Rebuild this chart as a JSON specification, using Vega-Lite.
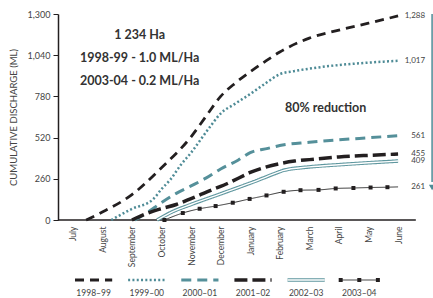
{
  "$schema": "https://vega.github.io/schema/vega-lite/v6.json",
  "padding": {"left": 8, "top": 10, "right": 0, "bottom": 0},
  "autosize": {"type": "pad"},
  "spacing": 60,
  "bounds": "flush",
  "config": {
    "view": {"stroke": null},
    "font": "Lato",
    "axis": {"labelFont": "Lato", "titleFont": "Lato", "grid": false}
  },
  "datasets": {
    "lines": [
      {"s": "1998–99", "m": 0.45, "v": 0},
      {"s": "1998–99", "m": 1, "v": 50},
      {"s": "1998–99", "m": 2, "v": 160},
      {"s": "1998–99", "m": 3, "v": 330},
      {"s": "1998–99", "m": 4, "v": 525},
      {"s": "1998–99", "m": 4.5, "v": 653},
      {"s": "1998–99", "m": 5, "v": 780},
      {"s": "1998–99", "m": 5.5, "v": 865},
      {"s": "1998–99", "m": 6, "v": 935},
      {"s": "1998–99", "m": 6.5, "v": 1000},
      {"s": "1998–99", "m": 7, "v": 1060},
      {"s": "1998–99", "m": 8, "v": 1148},
      {"s": "1998–99", "m": 9, "v": 1198},
      {"s": "1998–99", "m": 10, "v": 1242},
      {"s": "1998–99", "m": 11, "v": 1288, "lab": "1,288"},
      {"s": "1999–00", "m": 1.3, "v": 0},
      {"s": "1999–00", "m": 2, "v": 70},
      {"s": "1999–00", "m": 2.7, "v": 128},
      {"s": "1999–00", "m": 3, "v": 195},
      {"s": "1999–00", "m": 3.3, "v": 255},
      {"s": "1999–00", "m": 3.65, "v": 347},
      {"s": "1999–00", "m": 4, "v": 425},
      {"s": "1999–00", "m": 4.6, "v": 578},
      {"s": "1999–00", "m": 5, "v": 672},
      {"s": "1999–00", "m": 5.5, "v": 735},
      {"s": "1999–00", "m": 6, "v": 795},
      {"s": "1999–00", "m": 6.5, "v": 860},
      {"s": "1999–00", "m": 7, "v": 920},
      {"s": "1999–00", "m": 7.5, "v": 940},
      {"s": "1999–00", "m": 8, "v": 955},
      {"s": "1999–00", "m": 9, "v": 978},
      {"s": "1999–00", "m": 10, "v": 993},
      {"s": "1999–00", "m": 11, "v": 1005, "lab": "1,017"},
      {"s": "2000–01", "m": 2.1, "v": 0},
      {"s": "2000–01", "m": 2.5, "v": 45},
      {"s": "2000–01", "m": 3, "v": 110},
      {"s": "2000–01", "m": 3.5, "v": 168},
      {"s": "2000–01", "m": 4, "v": 215},
      {"s": "2000–01", "m": 4.5, "v": 264},
      {"s": "2000–01", "m": 5, "v": 322},
      {"s": "2000–01", "m": 5.6, "v": 379},
      {"s": "2000–01", "m": 6, "v": 425},
      {"s": "2000–01", "m": 6.6, "v": 452},
      {"s": "2000–01", "m": 7, "v": 470},
      {"s": "2000–01", "m": 8, "v": 490},
      {"s": "2000–01", "m": 9, "v": 506},
      {"s": "2000–01", "m": 10, "v": 519},
      {"s": "2000–01", "m": 11, "v": 532, "lab": "561"},
      {"s": "2001–02", "m": 2, "v": 0},
      {"s": "2001–02", "m": 2.7, "v": 55},
      {"s": "2001–02", "m": 3, "v": 72},
      {"s": "2001–02", "m": 3.5, "v": 98},
      {"s": "2001–02", "m": 4, "v": 135},
      {"s": "2001–02", "m": 4.7, "v": 190},
      {"s": "2001–02", "m": 5, "v": 212},
      {"s": "2001–02", "m": 5.8, "v": 282},
      {"s": "2001–02", "m": 6, "v": 300},
      {"s": "2001–02", "m": 6.4, "v": 327},
      {"s": "2001–02", "m": 7, "v": 356},
      {"s": "2001–02", "m": 7.5, "v": 372},
      {"s": "2001–02", "m": 8, "v": 381},
      {"s": "2001–02", "m": 9, "v": 398},
      {"s": "2001–02", "m": 10, "v": 408},
      {"s": "2001–02", "m": 11, "v": 416, "lab": "455"},
      {"s": "2002–03", "m": 2.85, "v": 0},
      {"s": "2002–03", "m": 3.4, "v": 55},
      {"s": "2002–03", "m": 4, "v": 98},
      {"s": "2002–03", "m": 5, "v": 165},
      {"s": "2002–03", "m": 6, "v": 233},
      {"s": "2002–03", "m": 7, "v": 305},
      {"s": "2002–03", "m": 7.1, "v": 312},
      {"s": "2002–03", "m": 8, "v": 335},
      {"s": "2002–03", "m": 9, "v": 349},
      {"s": "2002–03", "m": 10, "v": 361},
      {"s": "2002–03", "m": 11, "v": 372, "lab": "409"},
      {"s": "2003–04", "m": 3.1, "v": 0},
      {"s": "2003–04", "m": 3.72, "v": 44},
      {"s": "2003–04", "m": 4.29, "v": 71},
      {"s": "2003–04", "m": 4.83, "v": 88},
      {"s": "2003–04", "m": 5.41, "v": 109},
      {"s": "2003–04", "m": 5.98, "v": 133},
      {"s": "2003–04", "m": 6.55, "v": 155},
      {"s": "2003–04", "m": 7.13, "v": 178},
      {"s": "2003–04", "m": 7.7, "v": 188},
      {"s": "2003–04", "m": 8.31, "v": 190},
      {"s": "2003–04", "m": 8.89, "v": 199},
      {"s": "2003–04", "m": 9.49, "v": 202},
      {"s": "2003–04", "m": 10.07, "v": 205},
      {"s": "2003–04", "m": 10.64, "v": 207},
      {"s": "2003–04", "m": 11, "v": 209, "lab": "261"}
    ],
    "notes": [
      {"m": 2.26, "v": 1168, "t": "1 234 Ha"},
      {"m": 2.26, "v": 1024, "t": "1998-99 - 1.0 ML/Ha"},
      {"m": 2.26, "v": 879, "t": "2003-04 - 0.2 ML/Ha"},
      {"m": 8.55, "v": 706, "t": "80% reduction"}
    ],
    "arrow": [
      {"m": 12.15, "v": 1300, "v2": 240, "vh": 205}
    ],
    "baseline": [
      {"m": -0.5, "m2": 11.6, "v": 0}
    ],
    "series": [
      {"s": "1998–99"}, {"s": "1999–00"}, {"s": "2000–01"},
      {"s": "2001–02"}, {"s": "2002–03"}, {"s": "2003–04"}
    ]
  },
  "vconcat": [
    {
      "width": 380,
      "height": 206,
      "encoding": {
        "x": {
          "field": "m", "type": "quantitative",
          "scale": {"domain": [-0.5, 12.35], "nice": false, "zero": false},
          "axis": {
            "values": [0, 1, 2, 3, 4, 5, 6, 7, 8, 9, 10, 11],
            "labelExpr": "['July','August','September','October','November','December','January','February','March','April','May','June'][datum.value]",
            "labelAngle": 270, "labelAlign": "right", "labelBaseline": "middle",
            "ticks": false, "labelPadding": 6, "title": null, "domain": false,
            "labelFontSize": 8.5, "labelColor": "#444444"
          }
        },
        "y": {
          "field": "v", "type": "quantitative",
          "scale": {"domain": [0, 1300], "nice": false},
          "axis": {
            "values": [0, 260, 520, 780, 1040, 1300], "format": ",.0f",
            "title": "CUMULATIVE DISCHARGE (ML)",
            "titleFontSize": 9.5, "titleFontWeight": "normal", "titleColor": "#444444",
            "titlePadding": 9, "labelFontSize": 9, "labelColor": "#444444",
            "labelPadding": 3, "tickSize": 5, "tickColor": "#231f20",
            "domainColor": "#231f20", "domainWidth": 1.5
          }
        }
      },
      "layer": [
        {
          "data": {"name": "baseline"},
          "mark": {"type": "rule", "color": "#231f20", "strokeWidth": 1.5},
          "encoding": {"x2": {"field": "m2"}}
        },
        {
          "data": {"name": "lines"},
          "mark": {"type": "line", "interpolate": "monotone"},
          "encoding": {
            "detail": {"field": "s"},
            "color": {
              "field": "s", "type": "nominal", "legend": null,
              "scale": {"domain": ["1998–99", "1999–00", "2000–01", "2001–02", "2002–03", "2003–04"],
                        "range": ["#231f20", "#4e8b96", "#55909a", "#231f20", "#5f979f", "#333333"]}
            },
            "strokeDash": {
              "field": "s", "type": "nominal", "legend": null,
              "scale": {"type": "ordinal", "domain": ["1998–99", "1999–00", "2000–01", "2001–02", "2002–03", "2003–04"],
                        "range": [[9, 6], [2, 2.3], [10, 6], [13, 5], [1, 0], [1, 0]]}
            },
            "strokeWidth": {
              "field": "s", "type": "nominal", "legend": null,
              "scale": {"type": "ordinal", "domain": ["1998–99", "1999–00", "2000–01", "2001–02", "2002–03", "2003–04"],
                        "range": [2.8, 2.5, 3, 3.5, 3.6, 1]}
            }
          }
        },
        {
          "data": {"name": "lines"},
          "transform": [{"filter": "datum.s === '2002–03'"}],
          "mark": {"type": "line", "interpolate": "monotone", "color": "#ffffff", "strokeWidth": 1.4}
        },
        {
          "data": {"name": "lines"},
          "transform": [{"filter": "datum.s === '2003–04' && datum.m < 10.9"}],
          "mark": {"type": "square", "filled": true, "color": "#231f20", "size": 16, "opacity": 1}
        },
        {
          "data": {"name": "lines"},
          "transform": [{"filter": "isValid(datum.lab)"}],
          "mark": {"type": "text", "align": "right", "baseline": "middle", "dx": 27, "fontSize": 8, "color": "#444444"},
          "encoding": {"text": {"field": "lab"}}
        },
        {
          "data": {"name": "notes"},
          "mark": {"type": "text", "align": "center", "baseline": "middle", "fontSize": 12.5, "fontWeight": "bold", "color": "#333333"},
          "encoding": {"text": {"field": "t"}}
        },
        {
          "data": {"name": "arrow"},
          "mark": {"type": "rule", "color": "#4e8b96", "strokeWidth": 1.5},
          "encoding": {"y2": {"field": "v2"}}
        },
        {
          "data": {"name": "arrow"},
          "mark": {"type": "point", "shape": "triangle-down", "filled": true, "color": "#4e8b96", "size": 40, "opacity": 1},
          "encoding": {"y": {"field": "vh", "type": "quantitative"}}
        }
      ]
    },
    {
      "width": 380,
      "height": 4,
      "data": {"name": "series"},
      "encoding": {
        "y": {"datum": 1, "type": "quantitative", "scale": {"domain": [0, 1]}, "axis": null}
      },
      "layer": [
        {
          "mark": {"type": "rule"},
          "encoding": {
            "x": {"field": "s", "type": "nominal", "bandPosition": 0.15, "axis": null,
                  "scale": {"type": "band", "domain": ["1998–99", "1999–00", "2000–01", "2001–02", "2002–03", "2003–04"], "paddingInner": 0, "paddingOuter": 0.5755, "align": 0.1475}},
            "x2": {"field": "s", "bandPosition": 0.85},
            "color": {
              "field": "s", "type": "nominal", "legend": null,
              "scale": {"domain": ["1998–99", "1999–00", "2000–01", "2001–02", "2002–03", "2003–04"],
                        "range": ["#231f20", "#4e8b96", "#55909a", "#231f20", "#5f979f", "#333333"]}
            },
            "strokeDash": {
              "field": "s", "type": "nominal", "legend": null,
              "scale": {"type": "ordinal", "domain": ["1998–99", "1999–00", "2000–01", "2001–02", "2002–03", "2003–04"],
                        "range": [[8, 7], [2, 2.3], [7, 8], [13, 6], [1, 0], [1, 0]]}
            },
            "strokeWidth": {
              "field": "s", "type": "nominal", "legend": null,
              "scale": {"type": "ordinal", "domain": ["1998–99", "1999–00", "2000–01", "2001–02", "2002–03", "2003–04"],
                        "range": [2.8, 2.5, 3, 3.5, 3.6, 1]}
            }
          }
        },
        {
          "transform": [{"filter": "datum.s === '2002–03'"}],
          "mark": {"type": "rule", "color": "#ffffff", "strokeWidth": 1.4},
          "encoding": {
            "x": {"field": "s", "type": "nominal", "bandPosition": 0.15},
            "x2": {"field": "s", "bandPosition": 0.85}
          }
        },
        {
          "transform": [{"filter": "datum.s === '2003–04'"}],
          "mark": {"type": "square", "filled": true, "color": "#231f20", "size": 16, "opacity": 1},
          "encoding": {"x": {"field": "s", "type": "nominal", "bandPosition": 0.15}}
        },
        {
          "transform": [{"filter": "datum.s === '2003–04'"}],
          "mark": {"type": "square", "filled": true, "color": "#231f20", "size": 16, "opacity": 1},
          "encoding": {"x": {"field": "s", "type": "nominal", "bandPosition": 0.5}}
        },
        {
          "transform": [{"filter": "datum.s === '2003–04'"}],
          "mark": {"type": "square", "filled": true, "color": "#231f20", "size": 16, "opacity": 1},
          "encoding": {"x": {"field": "s", "type": "nominal", "bandPosition": 0.85}}
        },
        {
          "mark": {"type": "text", "align": "center", "baseline": "middle", "dy": 13, "fontSize": 8.5, "fill": "#444444"},
          "encoding": {
            "x": {"field": "s", "type": "nominal", "bandPosition": 0.5},
            "text": {"field": "s"},
            "color": {"value": "#444444"}
          }
        }
      ]
    }
  ]
}
